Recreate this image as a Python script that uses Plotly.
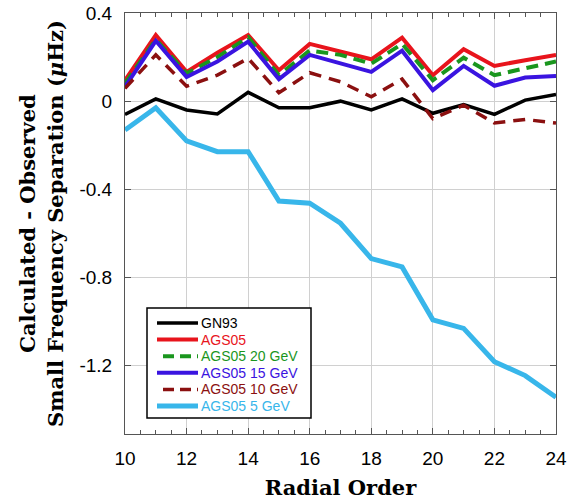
import plotly.graph_objects as go

radial_order = list(range(10, 25))

gn93 = [-0.06, 0.01, -0.04, -0.058, 0.04, -0.03, -0.03, 0.0, -0.04, 0.01, -0.055, -0.015, -0.06, 0.005, 0.03]
ags05 = [0.095, 0.30, 0.133, 0.22, 0.30, 0.14, 0.26, 0.224, 0.19, 0.288, 0.118, 0.236, 0.16, 0.186, 0.21]
ags05_20 = [0.08, 0.28, 0.126, 0.20, 0.29, 0.118, 0.23, 0.21, 0.17, 0.26, 0.095, 0.197, 0.118, 0.15, 0.18]
ags05_15 = [0.065, 0.274, 0.11, 0.18, 0.27, 0.10, 0.21, 0.17, 0.133, 0.229, 0.05, 0.16, 0.07, 0.107, 0.114]
ags05_10 = [0.058, 0.21, 0.068, 0.118, 0.194, 0.038, 0.129, 0.088, 0.02, 0.10, -0.079, -0.018, -0.099, -0.083, -0.099]
ags05_5 = [-0.131, -0.03, -0.18, -0.229, -0.229, -0.453, -0.463, -0.554, -0.714, -0.752, -0.992, -1.031, -1.182, -1.245, -1.343]

x_ticks = [10, 12, 14, 16, 18, 20, 22, 24]
y_ticks = [0.4, 0, -0.4, -0.8, -1.2]
y_ticklabels = ["0.4", "0", "-0.4", "-0.8", "-1.2"]

series = [
    ("GN93", gn93, "#000000", "solid", 3.5),
    ("AGS05", ags05, "#e8141c", "solid", 4),
    ("AGS05 20 GeV", ags05_20, "#1a961e", "12px,7px", 4),
    ("AGS05 15 GeV", ags05_15, "#3a14e0", "solid", 4),
    ("AGS05 10 GeV", ags05_10, "#8b1010", "12px,8px", 3.5),
    ("AGS05 5 GeV", ags05_5, "#38b6ea", "solid", 5),
]

# figure geometry (pixels)
W, H = 569, 504
ML, MR, MT, MB = 125, 13, 13, 70
PW, PH = W - ML - MR, H - MT - MB


def px_x(p):
    return (p - ML) / PW


def px_y(p):
    return (H - MB - p) / PH


fig = go.Figure()
for name, vals, color, dash, width in series:
    fig.add_trace(go.Scatter(
        x=radial_order, y=vals, mode="lines", name=name,
        line=dict(color=color, dash=dash, width=width),
        showlegend=False,
    ))

# custom legend (box, line samples, coloured labels)
shapes = [dict(type="rect", xref="paper", yref="paper",
               x0=px_x(147), x1=px_x(311), y0=px_y(418), y1=px_y(308),
               fillcolor="white", line=dict(color="black", width=1.5), layer="above")]
annotations = []
row0, row_gap = 323, 16.6
for i, (name, vals, color, dash, width) in enumerate(series):
    yy = row0 + i * row_gap
    x_start = 157 if dash == "solid" else 163
    shapes.append(dict(type="line", xref="paper", yref="paper",
                       x0=px_x(x_start), x1=px_x(198), y0=px_y(yy), y1=px_y(yy),
                       line=dict(color=color, width=width, dash="solid" if dash == "solid" else "11px,6px"),
                       layer="above"))
    annotations.append(dict(text=name, xref="paper", yref="paper",
                            x=px_x(199), y=px_y(yy), xanchor="left", yanchor="middle",
                            showarrow=False,
                            font=dict(family="Liberation Sans, Arial", size=14, color=color)))

axis_common = dict(
    showline=True, linecolor="#555555", linewidth=1, mirror="allticks",
    ticks="inside", tickcolor="#555555", ticklen=6,
    showgrid=True, gridcolor="#d0d0d0", gridwidth=1,
    zeroline=False, automargin=False, ticklabeloverflow="allow",
    tickfont=dict(family="Liberation Sans, Arial", size=19, color="black"),
)

fig.update_layout(
    width=W, height=H,
    margin=dict(l=ML, r=MR, t=MT, b=MB),
    paper_bgcolor="white", plot_bgcolor="white",
    xaxis=dict(
        range=[10, 24], tickvals=x_ticks, ticklabelstandoff=7,
        minor=dict(dtick=0.5, ticks="inside", ticklen=4, tickcolor="#555555", showgrid=False),
        title=dict(text="<b>Radial Order</b>", font=dict(family="DejaVu Serif", size=21, color="black"), standoff=12),
        **axis_common,
    ),
    yaxis=dict(
        range=[-1.51, 0.4], tickvals=y_ticks, ticktext=y_ticklabels, ticklabelstandoff=8,
        title=dict(text="<b>Calculated - Observed<br>Small Frequency Separation (<i>μ</i>Hz)</b>",
                   font=dict(family="DejaVu Serif", size=21, color="black"), standoff=10),
        **axis_common,
    ),
    shapes=shapes,
    annotations=annotations,
    showlegend=False,
)

fig.write_html("out.html", config={"displayModeBar": False},
               post_script="document.body.style.margin='0';")
